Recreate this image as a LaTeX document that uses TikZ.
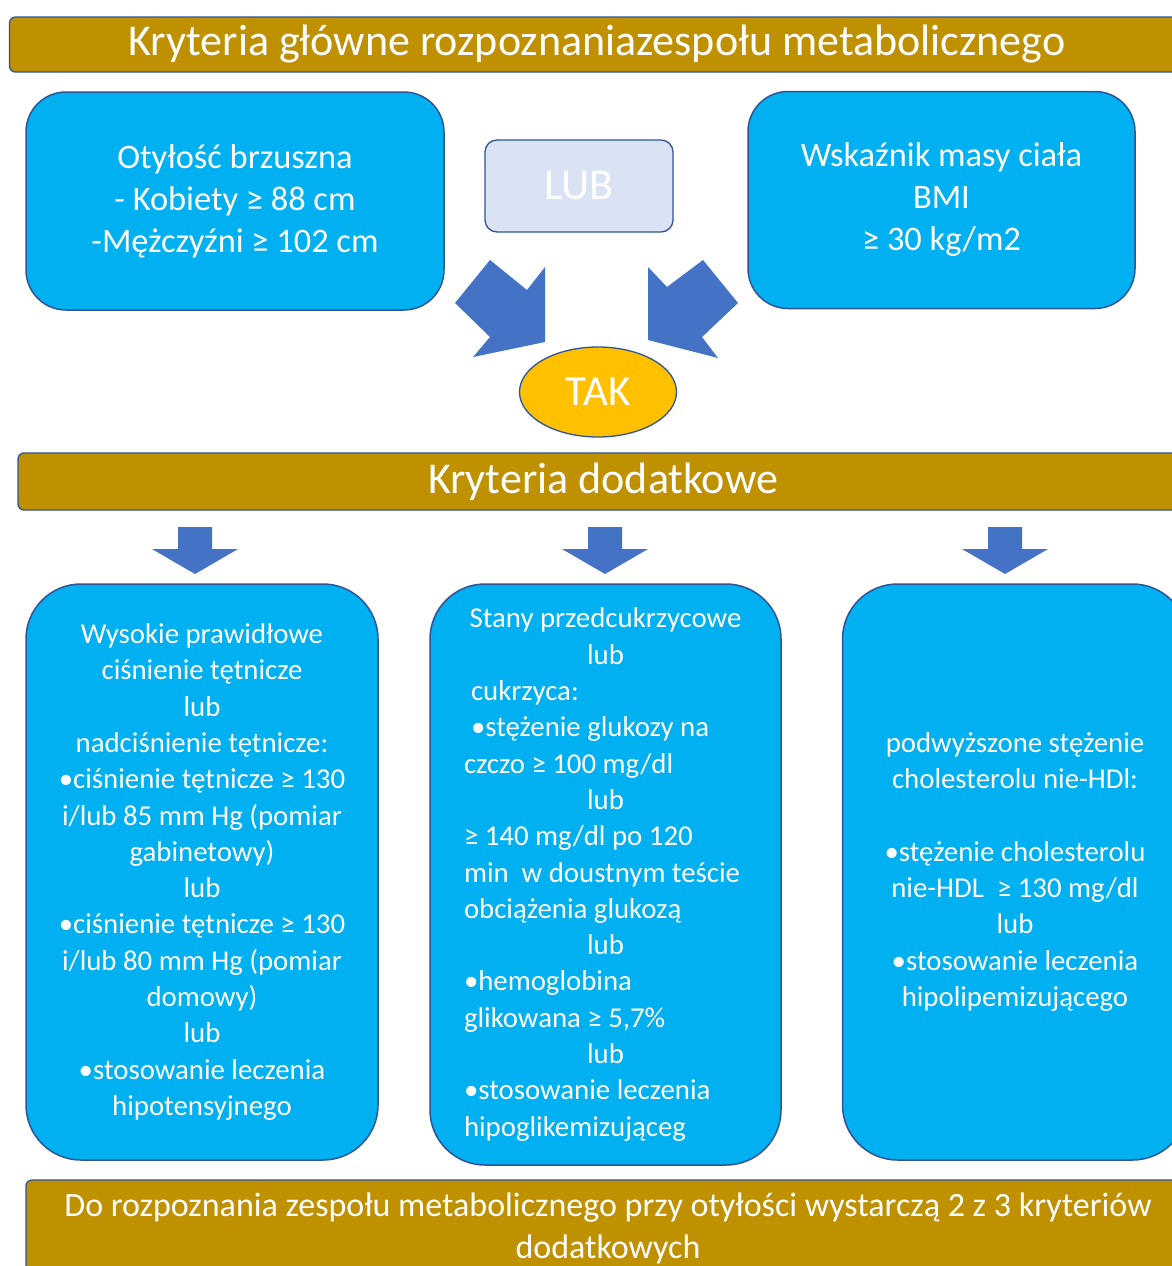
\documentclass[tikz,border=0pt]{standalone}
\usepackage{fontspec}
\setmainfont{Carlito}
\usetikzlibrary{positioning,shapes.geometric}
\definecolor{mscyan}{HTML}{00B0F0}
\definecolor{msedge}{HTML}{2F5597}
\definecolor{msgold}{HTML}{BF9000}
\definecolor{msarrow}{HTML}{4472C4}
\definecolor{mslight}{HTML}{DAE3F3}
\definecolor{msyellow}{HTML}{FFC000}
\newcommand{\wsrodku}[1]{\makebox[\linewidth]{#1}}
\tikzset{
    every node/.style={text=white,inner sep=0pt},
    banner/.style={draw=msedge,fill=msgold,rounded corners=6pt,line width=1.3pt,align=center,font=\fontsize{44}{46}\selectfont},
    glowny/.style={draw=msedge,fill=mscyan,rounded corners=40pt,line width=1.5pt,align=center,font=\fontsize{34.4}{42}\selectfont},
    dodatkowy/.style={draw=msedge,fill=mscyan,rounded corners=55pt,line width=1.5pt,align=center,font=\fontsize{28.8}{36.3}\selectfont},
    lubbox/.style={draw=msedge,fill=mslight,rounded corners=12pt,line width=1.3pt,font=\fontsize{44}{46}\selectfont},
    takbox/.style={ellipse,draw=msedge,fill=msyellow,line width=1.3pt,font=\fontsize{43}{46}\selectfont},
    blokstrz/.style={fill=msarrow}
}
\begin{document}
\begin{tikzpicture}[x=1pt,y=-1pt]
    \clip (0,0) rectangle (1172,1266);
    \fill[white] (0,0) rectangle (1172,1266);
    % kryteria glowne
    \node[banner,minimum width=1175pt,minimum height=55pt] (glowne) at (597,44.5) {Kryteria główne rozpoznaniazespołu metabolicznego};
    \node[glowny,minimum width=418pt,minimum height=218pt] (otylosc) at (235,201) {Otyłość brzuszna\\- Kobiety ≥ 88 cm\\-Mężczyźni ≥ 102 cm};
    \node[glowny,minimum width=387pt,minimum height=217pt] (bmi) at (941.5,200) {Wskaźnik masy ciała\\BMI\\≥ 30 kg/m2};
    \node[lubbox,minimum width=188pt,minimum height=92pt] (lub) at (579,186) {LUB};
    \node[takbox,minimum width=157pt,minimum height=90pt] (tak) at (598,392) {TAK};
    % strzalki do TAK
    \fill[blokstrz] (490,260) -- (527,290) -- (545,267) -- (545,342) -- (473,357) -- (490,337) -- (455,303) -- cycle;
    \fill[blokstrz] (703,260) -- (667,287) -- (648,267) -- (648,340) -- (718,358) -- (702,337) -- (738,303) -- cycle;
    % kryteria dodatkowe
    \node[banner,minimum width=1170pt,minimum height=57pt] (dodatkowe) at (603,481.5) {Kryteria dodatkowe};
    \foreach \x in {195,605,1005}
        \fill[blokstrz] (\x-17,527) -- (\x+17,527) -- (\x+17,549) -- (\x+43,549) -- (\x,574) -- (\x-43,549) -- (\x-17,549) -- cycle;
    \node[dodatkowy,minimum width=352pt,minimum height=576pt] (cisnienie) at (202,872) {Wysokie prawidłowe\\ciśnienie tętnicze\\lub\\nadciśnienie tętnicze:\\•ciśnienie tętnicze ≥ 130\\i/lub 85 mm Hg (pomiar\\gabinetowy)\\lub\\•ciśnienie tętnicze ≥ 130\\i/lub 80 mm Hg (pomiar\\domowy)\\lub\\•stosowanie leczenia\\hipotensyjnego};
    \node[dodatkowy,minimum width=351pt,minimum height=581pt,align=flush left,text width=283pt] (glukoza) at (605.5,874.5) {\wsrodku{Stany przedcukrzycowe}\\\wsrodku{lub}\\\mbox{\hspace*{7pt}cukrzyca:}\\\mbox{\hspace*{7pt}•stężenie glukozy na}\\\mbox{czczo ≥ 100 mg/dl}\\\wsrodku{lub}\\\mbox{≥ 140 mg/dl po 120}\\\mbox{min~ w doustnym teście}\\\mbox{obciążenia glukozą}\\\wsrodku{lub}\\\mbox{•hemoglobina}\\\mbox{glikowana ≥ 5,7\%}\\\wsrodku{lub}\\\mbox{•stosowanie leczenia}\\\mbox{hipoglikemizująceg}};
    \node[dodatkowy,minimum width=345pt,minimum height=576pt] (cholesterol) at (1015,872) {podwyższone stężenie\\cholesterolu nie-HDl:\\~\\•stężenie cholesterolu\\nie-HDL~ ≥ 130 mg/dl\\lub\\•stosowanie leczenia\\hipolipemizującego};
    % podsumowanie
    \node[banner,minimum width=1164pt,minimum height=96pt,font=\fontsize{34}{42}\selectfont] (wniosek) at (608,1228) {Do rozpoznania zespołu metabolicznego przy otyłości wystarczą 2 z 3 kryteriów\\dodatkowych};
\end{tikzpicture}
\end{document}
